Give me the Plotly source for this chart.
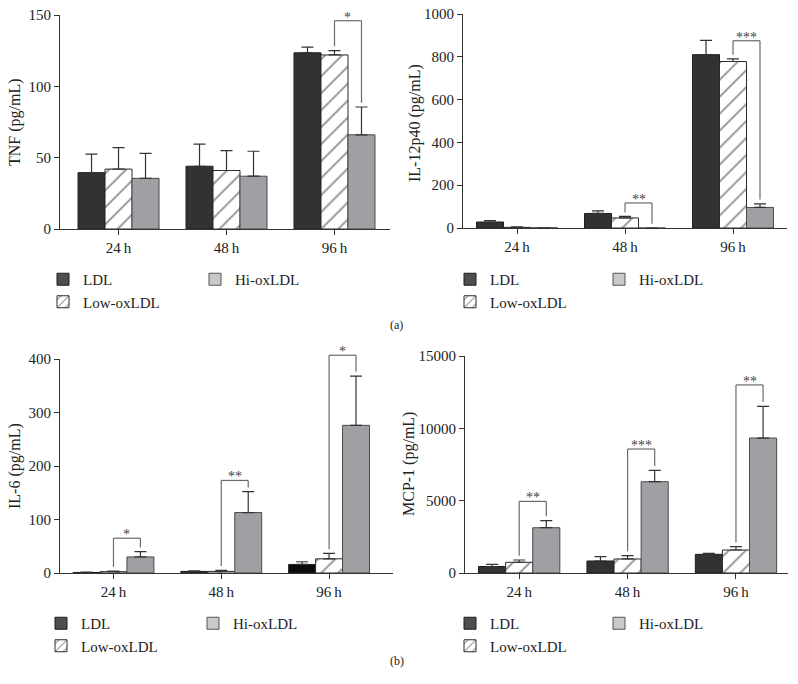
import plotly.graph_objects as go

# ---------------- data ----------------
categories = ["24\u2009h", "48\u2009h", "96\u2009h"]
series_names = ["LDL", "Low-oxLDL", "Hi-oxLDL"]

tnf_ldl = [39.5, 44.0, 123.5]
tnf_low = [42.0, 41.0, 122.0]
tnf_hi = [35.5, 37.0, 66.0]
tnf_ldl_err = [13.0, 15.5, 4.0]
tnf_low_err = [15.0, 14.0, 3.0]
tnf_hi_err = [17.5, 17.5, 19.5]
tnf_sig = [(2, 146, "*")]

il12_ldl = [28, 68, 810]
il12_low = [3, 47, 778]
il12_hi = [1, 0, 96]
il12_ldl_err = [7, 12, 67]
il12_low_err = [2, 7, 12]
il12_hi_err = [0, 0, 17]
il12_sig = [(1, 117, "**"), (2, 875, "***")]

il6_ldl = [1.0, 3.0, 16.0]
il6_low = [2.5, 3.0, 26.5]
il6_hi = [30.0, 113.0, 276.0]
il6_ldl_err = [0.5, 1.0, 5.0]
il6_low_err = [1.0, 2.0, 10.0]
il6_hi_err = [10.0, 39.0, 92.0]
il6_sig = [(0, 65, "*"), (1, 173, "**"), (2, 407, "*")]

mcp1_ldl = [450, 830, 1290]
mcp1_low = [740, 970, 1590]
mcp1_hi = [3130, 6310, 9330]
mcp1_ldl_err = [150, 300, 70]
mcp1_low_err = [160, 230, 230]
mcp1_hi_err = [490, 790, 2190]
mcp1_sig = [(0, 4950, "**"), (1, 8570, "***"), (2, 13000, "**")]

# ---------------- layout in pixels ----------------
W, H = 798, 684
FONT = "Liberation Serif"
TXT = "#222222"
FS = 15
FS_TITLE = 16

def px_x(x):
    return x / W

def px_y(y):
    return 1 - y / H

panels = [
    dict(title="TNF (pg/mL)", ymax=150, dtick=50,
         vals=[tnf_ldl, tnf_low, tnf_hi], errs=[tnf_ldl_err, tnf_low_err, tnf_hi_err], sig=tnf_sig,
         box=(60, 390, 15, 229), xr=(-0.542, 2.514), leg=(43, 195, 263), tpos=(15, 122)),
    dict(title="IL-12p40 (pg/mL)", ymax=1000, dtick=200,
         vals=[il12_ldl, il12_low, il12_hi], errs=[il12_ldl_err, il12_low_err, il12_hi_err], sig=il12_sig,
         box=(463, 787, 14, 228), xr=(-0.5, 2.5), leg=(450, 599, 263), tpos=(415, 123)),
    dict(title="IL-6 (pg/mL)", ymax=400, dtick=100,
         vals=[il6_ldl, il6_low, il6_hi], errs=[il6_ldl_err, il6_low_err, il6_hi_err], sig=il6_sig,
         box=(60, 393, 359, 573), xr=(-0.496, 2.593), leg=(41, 193, 607),
         ldl_colors=["#323232", "#323232", "#0c0c0c"], tpos=(15, 466)),
    dict(title="MCP-1 (pg/mL)", ymax=15000, dtick=5000,
         vals=[mcp1_ldl, mcp1_low, mcp1_hi], errs=[mcp1_ldl_err, mcp1_low_err, mcp1_hi_err], sig=mcp1_sig,
         box=(465, 788, 356, 573), xr=(-0.50, 2.48), leg=(450, 599, 607), tpos=(409, 464)),
]

BAR_W = 0.25
OFFSETS = [-0.375, -0.125, 0.125]

def bar_marker(k, colors=None):
    if k == 0:
        return dict(color=colors if colors else "#323232", line=dict(color="#1e1e1e", width=1))
    if k == 1:
        return dict(color="white", line=dict(color="#2a2a2a", width=1),
                    pattern=dict(shape="/", fgcolor="#1e1e1e", bgcolor="white", size=12, solidity=0.15))
    return dict(color="#a0a0a4", line=dict(color="#4a4a4a", width=1))

def legend_marker(k):
    if k == 0:
        return dict(color="#4e4e4e", line=dict(color="#1e1e1e", width=1))
    if k == 1:
        return dict(color="white", line=dict(color="#2a2a2a", width=1),
                    pattern=dict(shape="/", fgcolor="#1e1e1e", bgcolor="white", size=7, solidity=0.18))
    return dict(color="#c9c9c9", line=dict(color="#555555", width=1))

fig = go.Figure()
layout = dict(
    width=W, height=H, margin=dict(l=0, r=0, t=0, b=0, autoexpand=False),
    paper_bgcolor="white", plot_bgcolor="white",
    barmode="overlay", font=dict(family=FONT, size=FS, color=TXT),
)
shapes = []
annotations = []

for p, pan in enumerate(panels):
    n = "" if p == 0 else str(p + 1)
    xa, ya = "x" + n, "y" + n
    x0, x1, y0, y1 = pan["box"]
    layout["xaxis" + n] = dict(
        domain=[px_x(x0), px_x(x1)], range=list(pan["xr"]), anchor=ya, automargin=False,
        tickmode="array", tickvals=list(range(len(categories))), ticktext=categories,
        showline=True, linecolor="#333333", linewidth=1, ticks="outside", ticklen=5,
        tickcolor="#333333", showgrid=False, zeroline=False, fixedrange=True,
        tickfont=dict(family=FONT, size=FS, color=TXT),
    )
    layout["yaxis" + n] = dict(
        domain=[px_y(y1), px_y(y0)], range=[0, pan["ymax"]], anchor=xa, dtick=pan["dtick"],
        automargin=False, tickformat="d",
        showline=True, linecolor="#333333", linewidth=1, ticks="outside", ticklen=5,
        tickcolor="#333333", showgrid=False, zeroline=False, fixedrange=True,
        tickfont=dict(family=FONT, size=FS, color=TXT),
    )
    # y-axis title
    tx, ty = pan["tpos"]
    annotations.append(dict(x=px_x(tx), y=px_y(ty), xref="paper", yref="paper", text=pan["title"],
                            textangle=-90, showarrow=False, xanchor="center", yanchor="middle",
                            font=dict(family=FONT, size=FS_TITLE, color=TXT)))
    xs = list(range(len(categories)))
    legA = "legend" + ("" if p == 0 else str(2 * p + 1))
    legB = "legend" + str(2 * p + 2)
    for k in range(3):
        fig.add_trace(go.Bar(
            x=xs, y=pan["vals"][k], name=series_names[k], xaxis=xa, yaxis=ya,
            width=BAR_W, offset=OFFSETS[k], showlegend=False,
            marker=bar_marker(k, pan.get("ldl_colors")),
            error_y=dict(type="data", symmetric=False, array=pan["errs"][k],
                         arrayminus=[0] * len(xs), color="#333333", thickness=1.2, width=6),
            hoverinfo="skip",
        ))
    for k in range(3):
        fig.add_trace(go.Bar(
            x=[None], y=[None], name=series_names[k], xaxis=xa, yaxis=ya,
            marker=legend_marker(k), legend=legB if k == 2 else legA, legendgroup="g%d_%d" % (p, k),
            showlegend=True,
        ))
    lx, lx2, ly = pan["leg"]
    for lid, lxx in ((legA, lx), (legB, lx2)):
        layout[lid] = dict(x=px_x(lxx), y=px_y(ly), xanchor="left", yanchor="top",
                           bgcolor="rgba(0,0,0,0)", orientation="v", tracegroupgap=0,
                           font=dict(family=FONT, size=FS, color=TXT), itemclick=False)
    # significance brackets
    ymax = pan["ymax"]
    gap = 0.02 * ymax
    for (ci, level, label) in pan["sig"]:
        xl = ci + OFFSETS[1] + BAR_W / 2
        xr = ci + OFFSETS[2] + BAR_W / 2
        yl_end = pan["vals"][1][ci] + pan["errs"][1][ci] + gap
        yr_end = pan["vals"][2][ci] + pan["errs"][2][ci] + gap
        yref = ya + " domain"
        line = dict(color="#6a6a6a", width=1.2)
        shapes.append(dict(type="line", xref=xa, yref=yref, x0=xl, x1=xl, y0=yl_end / ymax, y1=level / ymax, line=line))
        shapes.append(dict(type="line", xref=xa, yref=yref, x0=xl, x1=xr, y0=level / ymax, y1=level / ymax, line=line))
        shapes.append(dict(type="line", xref=xa, yref=yref, x0=xr, x1=xr, y0=yr_end / ymax, y1=level / ymax, line=line))
        annotations.append(dict(x=(xl + xr) / 2, y=level / ymax, xref=xa, yref=yref, text=label,
                                showarrow=False, yanchor="bottom", yshift=-6,
                                font=dict(family=FONT, size=14, color="#444444")))

annotations.append(dict(x=px_x(396), y=px_y(325), xref="paper", yref="paper", text="(a)",
                        showarrow=False, font=dict(family=FONT, size=12, color=TXT)))
annotations.append(dict(x=px_x(397), y=px_y(670), xref="paper", yref="paper", text="(b)",
                        showarrow=False, font=dict(family=FONT, size=12, color=TXT)))

layout["shapes"] = shapes
layout["annotations"] = annotations
fig.update_layout(**layout)
fig.write_html("out.html", config={"displayModeBar": False},
               post_script="document.body.style.margin='0';document.body.style.overflow='hidden';")
